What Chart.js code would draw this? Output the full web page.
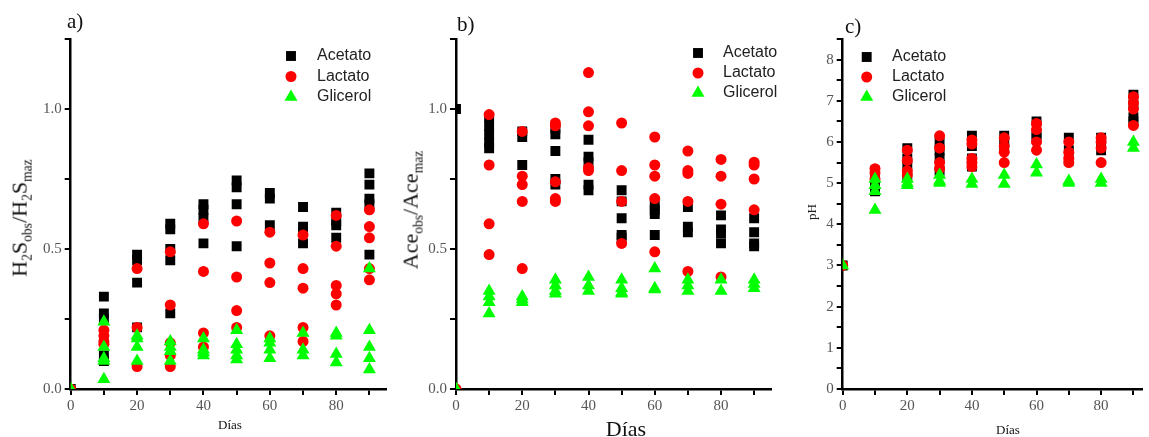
<!DOCTYPE html>
<html>
<head>
<meta charset="utf-8">
<script src="https://cdn.jsdelivr.net/npm/chart.js@4/dist/chart.umd.min.js"></script>
<style>
  body { margin: 0; background: #fff; }
  #wrap { position: relative; width: 1149px; height: 437px; overflow: hidden; }
  canvas { position: absolute; top: 0; }
  .lbl { position: absolute; font-family: 'Liberation Serif', serif; color: #111; white-space: nowrap; }
  .rot { transform: translate(-50%, -50%) rotate(-90deg); }
  .ctr { transform: translate(-50%, -50%); }
  sub { font-size: 62%; vertical-align: -0.35em; }
</style>
</head>
<body>
<div id="wrap">
  <canvas id="chartA" width="400" height="437" style="left:0px"></canvas>
  <canvas id="chartB" width="388" height="437" style="left:400px"></canvas>
  <canvas id="chartC" width="379" height="437" style="left:770px"></canvas>

  <div class="lbl" style="left:67px;top:9px;font-size:21px">a)</div>
  <div class="lbl" style="left:457px;top:12px;font-size:21px">b)</div>
  <div class="lbl" style="left:845px;top:14px;font-size:21px">c)</div>

  <div class="lbl rot" style="left:21px;top:218px;font-size:22px">H<sub>2</sub>S<sub>obs</sub>/H<sub>2</sub>S<sub>maz</sub></div>
  <div class="lbl rot" style="left:412px;top:210px;font-size:22px">Ace<sub>obs</sub>/Ace<sub>maz</sub></div>
  <div class="lbl rot" style="left:812px;top:212px;font-size:13px">pH</div>

  <div class="lbl ctr" style="left:230px;top:425px;font-size:13px">Días</div>
  <div class="lbl ctr" style="left:626px;top:429px;font-size:22px">Días</div>
  <div class="lbl ctr" style="left:1008px;top:430px;font-size:13px">Días</div>
</div>
<script>
// dias de muestreo
const dias = [0, 10, 20, 30, 40, 50, 60, 70, 80, 90];
const series = ['Acetato', 'Lactato', 'Glicerol'];

// a) H2Sobs/H2Smaz, valores por dia
const h2sAcetato = [[0], [0.33, 0.27, 0.25, 0.12, 0.10], [0.48, 0.46, 0.38, 0.22], [0.59, 0.57, 0.50, 0.46, 0.27],
  [0.66, 0.64, 0.61, 0.52], [0.745, 0.72, 0.66, 0.51], [0.70, 0.68, 0.585], [0.65, 0.58, 0.56, 0.52],
  [0.63, 0.60, 0.585, 0.54], [0.77, 0.73, 0.68, 0.66, 0.48]];
const h2sLactato = [[0], [0.21, 0.19, 0.17, 0.16], [0.43, 0.22, 0.08], [0.49, 0.30, 0.165, 0.12, 0.08],
  [0.59, 0.42, 0.20, 0.15], [0.60, 0.40, 0.28, 0.22], [0.56, 0.45, 0.38, 0.19], [0.55, 0.43, 0.36, 0.22, 0.17],
  [0.62, 0.51, 0.37, 0.34, 0.30], [0.64, 0.58, 0.54, 0.43, 0.39]];
const h2sGlicerol = [[0], [0.24, 0.15, 0.11, 0.10, 0.035], [0.19, 0.18, 0.15, 0.10], [0.17, 0.15, 0.135, 0.10],
  [0.18, 0.14, 0.13, 0.12], [0.21, 0.16, 0.14, 0.12, 0.105], [0.18, 0.165, 0.14, 0.11], [0.20, 0.14, 0.12],
  [0.20, 0.19, 0.125, 0.095], [0.43, 0.21, 0.15, 0.11, 0.07]];

// b) Aceobs/Acemaz
const aceAcetato = [[1.0], [0.97, 0.94, 0.91, 0.88, 0.86], [0.92, 0.90, 0.80], [0.93, 0.91, 0.85, 0.75, 0.73],
  [0.89, 0.83, 0.81, 0.73, 0.71], [0.71, 0.67, 0.61, 0.55, 0.54], [0.66, 0.64, 0.625, 0.55], [0.65, 0.58, 0.56],
  [0.62, 0.57, 0.555, 0.52], [0.61, 0.56, 0.52, 0.51]];
const aceLactato = [[0], [0.98, 0.80, 0.59, 0.48], [0.92, 0.76, 0.73, 0.67, 0.43], [0.95, 0.94, 0.74, 0.68, 0.67],
  [1.13, 0.99, 0.94, 0.79, 0.78], [0.95, 0.78, 0.67, 0.52], [0.90, 0.80, 0.76, 0.68, 0.49], [0.85, 0.78, 0.77, 0.67, 0.42],
  [0.82, 0.76, 0.66, 0.40], [0.81, 0.80, 0.75, 0.64]];
const aceGlicerol = [[0], [0.35, 0.33, 0.31, 0.27], [0.33, 0.32, 0.31], [0.39, 0.37, 0.35, 0.34],
  [0.40, 0.37, 0.35], [0.39, 0.36, 0.345, 0.34], [0.43, 0.36, 0.355], [0.39, 0.37, 0.35],
  [0.39, 0.35], [0.39, 0.375, 0.36]];

// c) pH
const phAcetato = [[3.0], [5.3, 5.1, 4.9, 4.8], [5.85, 5.6, 5.4, 5.15], [6.0, 5.8, 5.6, 5.3], [6.15, 5.9, 5.6, 5.4],
  [6.15, 6.0, 5.85], [6.5, 6.2, 6.1], [6.1, 5.8, 5.55], [6.1, 5.95, 5.8], [7.15, 6.9, 6.6, 6.5]];
const phLactato = [[3.0], [5.35, 5.25, 5.1], [5.8, 5.55, 5.3, 5.2], [6.15, 5.85, 5.5, 5.35], [6.05, 5.95, 5.6, 5.5, 5.4],
  [6.1, 5.9, 5.75, 5.5], [6.45, 6.3, 6.0, 5.8], [6.0, 5.75, 5.6, 5.5], [6.1, 6.0, 5.85, 5.5], [7.1, 6.95, 6.8, 6.4]];
const phGlicerol = [[3.0], [5.1, 4.95, 4.8, 4.35], [5.1, 5.0, 4.95], [5.2, 5.05, 5.0], [5.1, 4.98],
  [5.2, 4.98], [5.45, 5.25], [5.05, 5.0], [5.1, 5.0], [6.0, 5.85]];

const styles = [
  { pointStyle: 'rect', radius: 7, color: '#000000' },
  { pointStyle: 'circle', radius: 5.5, color: '#ff0000' },
  { pointStyle: 'triangle', radius: 7.5, color: '#00ff00' }
];

function toPoints(vals) {
  return dias.flatMap((d, i) => vals[i].map(v => ({ x: d, y: v })));
}

function drawMarker(ctx, style, x, y, r, color) {
  ctx.fillStyle = color;
  ctx.beginPath();
  if (style === 'rect') {
    const s = r * Math.SQRT1_2;
    ctx.rect(x - s, y - s, 2 * s, 2 * s);
  } else if (style === 'triangle') {
    ctx.moveTo(x, y - r);
    ctx.lineTo(x + r * 0.866, y + r * 0.5);
    ctx.lineTo(x - r * 0.866, y + r * 0.5);
    ctx.closePath();
  } else {
    ctx.arc(x, y, r, 0, Math.PI * 2);
  }
  ctx.fill();
}

const markerLegend = {
  id: 'markerLegend',
  afterDraw(chart, args, opts) {
    const ctx = chart.ctx;
    ctx.save();
    ctx.font = '16px "Liberation Sans", Arial, sans-serif';
    ctx.textBaseline = 'middle';
    series.forEach((name, i) => {
      const y = opts.y + i * opts.dy;
      drawMarker(ctx, styles[i].pointStyle, opts.x, y, styles[i].radius, styles[i].color);
      ctx.fillStyle = '#222';
      ctx.fillText(name, opts.textX, y);
    });
    ctx.restore();
  }
};

function makePanel(id, sets, p) {
  const datasets = sets.map((vals, i) => ({
    label: series[i],
    data: toPoints(vals),
    pointStyle: styles[i].pointStyle,
    pointRadius: styles[i].radius,
    pointBackgroundColor: styles[i].color,
    pointBorderColor: styles[i].color,
    pointBorderWidth: 0,
    order: 3 - i,
    clip: 0
  }));
  const tickFont = { family: '"Liberation Serif", serif', size: 15 };
  return new Chart(document.getElementById(id), {
    type: 'scatter',
    data: { datasets },
    options: {
      responsive: false,
      animation: false,
      devicePixelRatio: 1,
      layout: { padding: { top: 39, right: p.padRight, left: 0, bottom: 0 } },
      plugins: {
        legend: { display: false },
        tooltip: { enabled: false },
        markerLegend: p.legend
      },
      scales: {
        x: {
          type: 'linear', min: 0, max: p.xMax,
          afterFit: s => { s.height = 48; },
          border: { display: true, color: '#000', width: 2.5 },
          grid: { drawOnChartArea: false, drawTicks: true, tickLength: 6, color: '#000', lineWidth: 2 },
          ticks: {
            stepSize: 10, includeBounds: false, maxRotation: 0, autoSkip: false,
            color: '#555', font: tickFont, padding: 2,
            callback: v => (v % 20 === 0 ? String(v) : '')
          }
        },
        y: {
          type: 'linear', min: 0, max: p.yMax,
          afterFit: s => { s.width = p.yWidth; },
          border: { display: true, color: '#000', width: 2.5 },
          grid: { drawOnChartArea: false, drawTicks: true, tickLength: 6, color: '#000', lineWidth: 2 },
          ticks: {
            stepSize: p.yStep, includeBounds: false, autoSkip: false,
            color: '#555', font: tickFont, padding: 3,
            callback: p.yLabel
          }
        }
      }
    },
    plugins: [markerLegend]
  });
}

const ratioLabel = v => (Math.abs(v * 2 - Math.round(v * 2)) < 1e-6 ? v.toFixed(1) : '');

makePanel('chartA', [h2sAcetato, h2sLactato, h2sGlicerol], {
  xMax: 95, yMax: 1.25, yStep: 0.25, yWidth: 70.7, padRight: 14, yLabel: ratioLabel,
  legend: { x: 291, textX: 317, y: 56, dy: 20.5 }
});
makePanel('chartB', [aceAcetato, aceLactato, aceGlicerol], {
  xMax: 95, yMax: 1.25, yStep: 0.25, yWidth: 56, padRight: 17.3, yLabel: ratioLabel,
  legend: { x: 298, textX: 323, y: 53, dy: 20 }
});
makePanel('chartC', [phAcetato, phLactato, phGlicerol], {
  xMax: 92.5, yMax: 8.5, yStep: 0.5, yWidth: 72.7, padRight: 0,
  yLabel: v => (Number.isInteger(v) ? String(v) : ''),
  legend: { x: 96.7, textX: 122, y: 57, dy: 20 }
});
</script>
</body>
</html>
